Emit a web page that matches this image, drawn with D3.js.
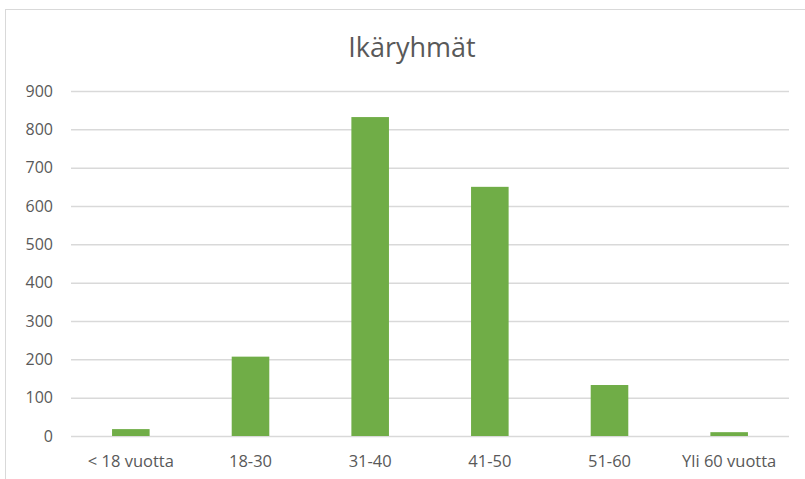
<!DOCTYPE html>
<html>
<head>
<meta charset="utf-8">
<script src="https://cdn.jsdelivr.net/npm/d3@7"></script>
<style>
  body { margin: 0; background: #fff; }
  text { font-family: "Open Sans", sans-serif; fill: #595959; }
</style>
</head>
<body>
<svg id="chart"></svg>
<script>
const title = "Ikäryhmät";
const categories = ["< 18 vuotta", "18-30", "31-40", "41-50", "51-60", "Yli 60 vuotta"];
const values = [18, 207, 832, 650, 133, 10];
const yTicks = [0, 100, 200, 300, 400, 500, 600, 700, 800, 900];

const width = 805, height = 479;
const margin = { top: 91, right: 16, bottom: 43, left: 71 };

const svg = d3.select("#chart")
    .attr("width", width)
    .attr("height", height);

// chart frame, runs off the right and bottom edge
svg.append("rect")
    .attr("x", 5.5)
    .attr("y", 9.5)
    .attr("width", 900)
    .attr("height", 600)
    .attr("fill", "none")
    .attr("stroke", "#d9d9d9");

svg.append("text")
    .attr("x", 412)
    .attr("y", 57)
    .attr("text-anchor", "middle")
    .style("font-size", "27px")
    .text(title);

const x = d3.scaleBand()
    .domain(categories)
    .range([margin.left, width - margin.right])
    .paddingInner(0.686)
    .paddingOuter(0.343);

const y = d3.scaleLinear()
    .domain([0, 900])
    .range([height - margin.bottom, margin.top]);

// gridlines
svg.append("g")
    .attr("transform", `translate(${margin.left},0)`)
    .call(d3.axisLeft(y).tickValues(yTicks).tickSize(-(width - margin.right - margin.left)).tickFormat(""))
    .call(g => g.select(".domain").remove())
    .call(g => g.selectAll("line").attr("stroke", "#d9d9d9").attr("stroke-width", 1.5));

// y labels
svg.append("g")
    .attr("transform", `translate(53,0)`)
    .call(d3.axisLeft(y).tickValues(yTicks).tickSize(0).tickPadding(0))
    .call(g => g.select(".domain").remove())
    .call(g => g.selectAll("text").style("font-size", "16px").attr("fill", "#595959"));

// bars
svg.append("g")
    .selectAll("rect")
    .data(values)
    .join("rect")
    .attr("x", (d, i) => x(categories[i]))
    .attr("y", d => y(d))
    .attr("width", x.bandwidth())
    .attr("height", d => y(0) - y(d))
    .attr("fill", "#70ad47");

// x labels
svg.append("g")
    .attr("transform", `translate(0,${height - margin.bottom})`)
    .call(d3.axisBottom(x).tickSize(0).tickPadding(19))
    .call(g => g.select(".domain").remove())
    .call(g => g.selectAll("text").style("font-size", "16.5px").attr("fill", "#595959"));
</script>
</body>
</html>
